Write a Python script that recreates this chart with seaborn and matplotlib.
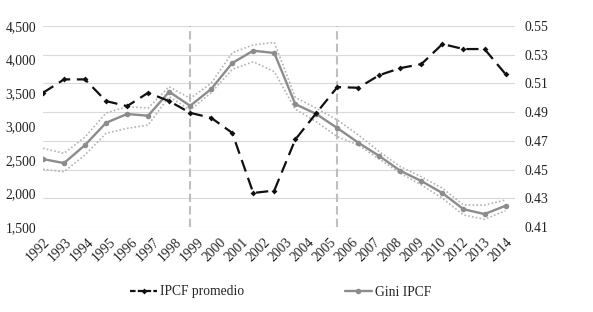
import matplotlib
matplotlib.use("Agg")
import matplotlib.pyplot as plt
import matplotlib.transforms as mtransforms
from matplotlib.lines import Line2D
import seaborn as sns
import pandas as pd
import numpy as np

### Data

years = list(range(1992, 2015))  # 23 observations
tick_labels = ["1992", "1993", "1994", "1995", "1996", "1997", "1998", "1999", "2000", "2001", "2002",
               "2003", "2004", "2005", "2006", "2007", "2008", "2009", "2010", "2012", "2013", "2014"]

ipcf = [3503, 3703, 3703, 3379, 3304, 3503, 3379, 3204, 3129, 2905, 2008, 2044,
        2806, 3200, 3588, 3578, 3767, 3872, 3932, 4231, 4156, 4156, 3782]

gini = [0.4573, 0.4545, 0.4671, 0.4826, 0.4887, 0.4875, 0.5042, 0.4944, 0.5061, 0.5242, 0.5328, 0.5312,
        0.4956, 0.4887, 0.4789, 0.4687, 0.4594, 0.4491, 0.4420, 0.4336, 0.4224, 0.4190, 0.4248]
gini_upper = [0.4648, 0.4613, 0.4727, 0.4894, 0.4938, 0.4929, 0.5077, 0.4996, 0.5101, 0.5314, 0.5368, 0.5386,
              0.5003, 0.4927, 0.4845, 0.4741, 0.4624, 0.4520, 0.4450, 0.4370, 0.4253, 0.4253, 0.4288]
gini_lower = [0.4502, 0.4485, 0.4602, 0.4753, 0.4787, 0.4810, 0.5008, 0.4915, 0.5035, 0.5198, 0.5251, 0.5182,
              0.4920, 0.4833, 0.4729, 0.4671, 0.4572, 0.4474, 0.4393, 0.4300, 0.4184, 0.4154, 0.4214]

break_years = [1999, 2006]

left_ticks = [1500, 2000, 2500, 3000, 3500, 4000, 4500]
right_ticks = [0.41, 0.43, 0.45, 0.47, 0.49, 0.51, 0.53, 0.55]

####

df = pd.DataFrame({"year": years, "ipcf": ipcf, "gini": gini,
                   "upper": gini_upper, "lower": gini_lower})

sns.set_style("white")
plt.rcParams["font.family"] = ["Liberation Serif", "DejaVu Serif"]
fs = 9.8

fig = plt.figure(figsize=(5.93, 3.12), dpi=100)
ax = fig.add_axes([43 / 593, 1 - 227 / 312, (515 - 43) / 593, (227 - 26) / 312])
ax2 = ax.twinx()

# Gini on the base axes (ticks on the right), income on the twin (ticks on the left)
gray = "#8C8C8C"
sns.lineplot(data=df, x="year", y="upper", ax=ax, color="#B3B3B3", lw=1.2, linestyle=(0, (1, 1.3)))
sns.lineplot(data=df, x="year", y="lower", ax=ax, color="#B3B3B3", lw=1.2, linestyle=(0, (1, 1.3)))
sns.lineplot(data=df, x="year", y="gini", ax=ax, color=gray, lw=1.7, marker="o", markersize=4,
             markeredgewidth=0, markerfacecolor=gray)
for yb in break_years:
  ax.axvline(yb, color="#BFBFBF", lw=1.5, dashes=(4, 2), zorder=1)

sns.lineplot(data=df, x="year", y="ipcf", ax=ax2, color="#111111", lw=1.6, dashes=(5.5, 3),
             marker="D", markersize=3, markeredgewidth=0, markerfacecolor="#111111")

ax.set_ylim(0.41, 0.55)
ax.set_yticks(right_ticks)
ax.set_yticklabels(["%.2f" % t for t in right_ticks], fontsize=fs, color="#222222")
ax.yaxis.tick_right()
ax.grid(axis="y", color="#D9D9D9", lw=0.8)
ax.grid(axis="x", visible=False)

ax2.set_ylim(1500, 4500)
ax2.set_yticks(left_ticks)
ax2.set_yticklabels(["{:,}".format(t) for t in left_ticks], fontsize=fs, color="#222222")
ax2.yaxis.tick_left()
ax2.grid(False)

ax.set_xlim(years[0], years[-1] + 0.45)
ax.set_xticks(np.linspace(years[0], years[-1], len(tick_labels)))
ax.set_xticklabels(tick_labels, rotation=45, ha="right", rotation_mode="anchor", fontsize=fs, color="#222222")
shift = mtransforms.ScaledTranslation(3 / 100, -3 / 100, fig.dpi_scale_trans)
for lab in ax.get_xticklabels():
  lab.set_transform(lab.get_transform() + shift)

for a in (ax, ax2):
  a.set_xlabel("")
  a.set_ylabel("")
  for s in a.spines.values():
    s.set_visible(False)
ax.tick_params(axis="y", length=0, pad=7)
ax2.tick_params(axis="y", length=0, pad=5)
ax.tick_params(axis="x", length=0, pad=6)

handles = [
  Line2D([], [], color="#111111", lw=1.6, dashes=(2.5, 1), marker="D", markersize=3, markeredgewidth=0),
  Line2D([], [], color=gray, lw=1.7, marker="o", markersize=4, markeredgewidth=0),
]
fig.legend(handles, ["IPCF promedio", "Gini IPCF"], loc="center", bbox_to_anchor=(0.473, 1 - 292 / 312),
           ncol=2, frameon=False, fontsize=fs, handlelength=2.0, handletextpad=0.2, columnspacing=7.4)

fig.savefig("out.png", dpi=100)
